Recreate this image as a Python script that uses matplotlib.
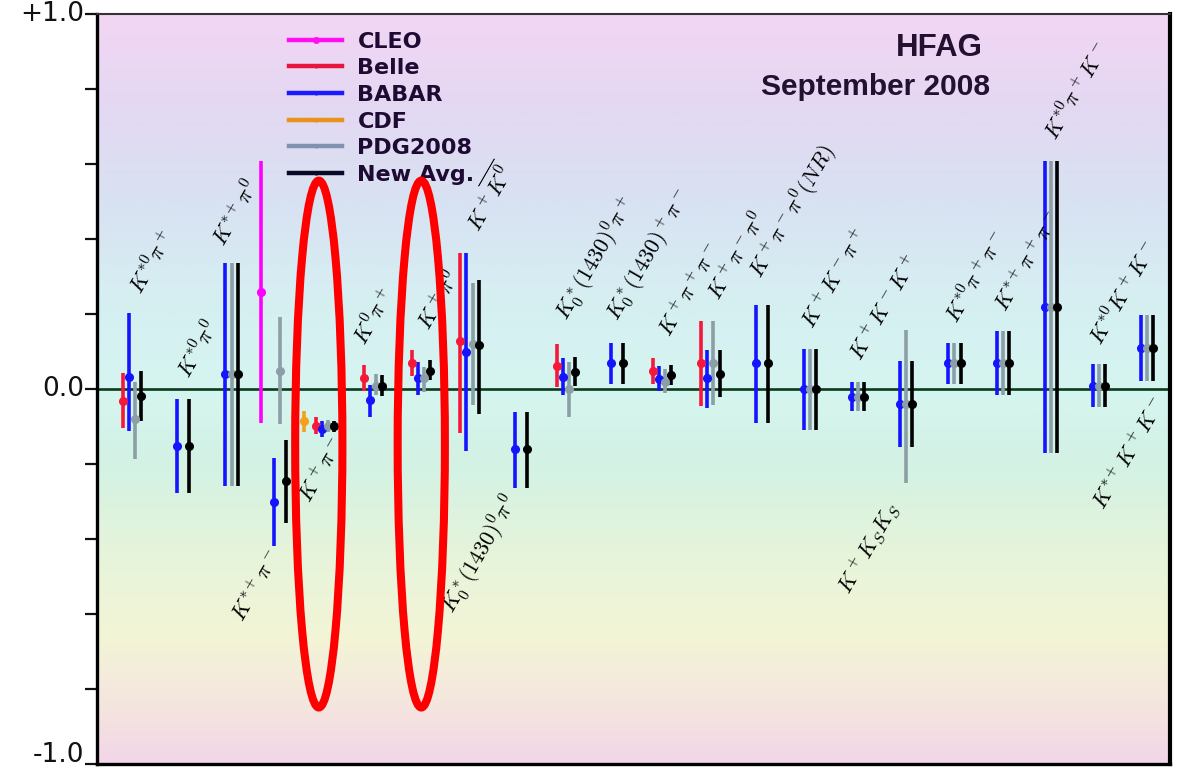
import numpy as np
import matplotlib
matplotlib.use("Agg")
import matplotlib.pyplot as plt
from matplotlib.lines import Line2D
from matplotlib.patches import Ellipse
from matplotlib.colors import LinearSegmentedColormap
from matplotlib.ticker import FixedLocator, NullFormatter
from matplotlib.transforms import ScaledTranslation

plt.rcParams['mathtext.fontset'] = 'cm'
plt.rcParams['font.family'] = ['DejaVu Sans']

nan = np.nan

modes = [r'$K^{*0}\pi^+$', r'$K^{*0}\pi^0$', r'$K^{*+}\pi^0$', r'$K^{*+}\pi^-$',
         r'$K^+\pi^-$', r'$K^0\pi^+$', r'$K^+\pi^0$', r'$K^+\overline{K^0}$',
         r'$K_0^*(1430)^0\pi^0$', r'$K_0^*(1430)^0\pi^+$', r'$K_0^*(1430)^+\pi^-$',
         r'$K^+\pi^+\pi^-$', r'$K^+\pi^-\pi^0$', r'$K^+\pi^-\pi^0(NR)$',
         r'$K^+K^-\pi^+$', r'$K^+K^-K^+$', r'$K^+K_SK_S$', r'$K^{*0}\pi^+\pi^-$',
         r'$K^{*+}\pi^+\pi^-$', r'$K^{*0}\pi^+K^-$', r'$K^{*0}K^+K^-$', r'$K^{*+}K^+K^-$']

# CDF
cdf_val = [nan]*4 + [-0.085] + [nan]*17
cdf_hi  = [nan]*4 + [-0.059] + [nan]*17
cdf_lo  = [nan]*4 + [-0.113] + [nan]*17
# CLEO
cleo_val = [nan]*3 + [0.26] + [nan]*18
cleo_hi  = [nan]*3 + [0.61] + [nan]*18
cleo_lo  = [nan]*3 + [-0.09] + [nan]*18
# Belle
belle_val = [-0.03, nan, nan, nan, -0.098, 0.031, 0.071, 0.13, nan, 0.062, nan, 0.05, 0.07,
             nan, nan, nan, nan, nan, nan, nan, nan, nan]
belle_hi  = [0.044, nan, nan, nan, -0.074, 0.064, 0.104, 0.363, nan, 0.122, nan, 0.084, 0.182,
             nan, nan, nan, nan, nan, nan, nan, nan, nan]
belle_lo  = [-0.104, nan, nan, nan, -0.118, -0.004, 0.035, -0.116, nan, 0.006, nan, 0.013, -0.045,
             nan, nan, nan, nan, nan, nan, nan, nan, nan]
# BABAR
babar_val = [0.033, -0.15, 0.042, -0.30, -0.106, -0.029, 0.03, 0.099, -0.16, 0.033, 0.07, 0.028,
             0.031, 0.07, 0.0, -0.02, -0.039, 0.07, 0.07, 0.219, 0.01, 0.11]
babar_hi  = [0.204, -0.025, 0.336, -0.184, -0.085, 0.012, 0.073, 0.363, -0.06, 0.084, 0.124, 0.061,
             0.104, 0.226, 0.108, 0.02, 0.075, 0.124, 0.155, 0.609, 0.067, 0.197]
babar_lo  = [-0.112, -0.276, -0.258, -0.418, -0.127, -0.074, -0.014, -0.165, -0.262, -0.016, 0.015,
             -0.004, -0.049, -0.09, -0.109, -0.057, -0.155, 0.015, -0.015, -0.169, -0.046, 0.022]
# PDG2008
pdg_val = [-0.08, nan, 0.042, 0.05, -0.097, 0.01, 0.03, 0.12, nan, 0.0, nan, 0.02, 0.07, nan,
           0.0, -0.02, -0.04, 0.07, 0.07, 0.219, 0.01, 0.11]
pdg_hi  = [0.019, nan, 0.336, 0.192, -0.081, 0.042, 0.059, 0.283, nan, 0.073, nan, 0.055, 0.182, nan,
           0.108, 0.02, 0.157, 0.124, 0.155, 0.609, 0.067, 0.197]
pdg_lo  = [-0.185, nan, -0.258, -0.093, -0.113, -0.016, -0.007, -0.043, nan, -0.074, nan, -0.011,
           -0.043, nan, -0.109, -0.057, -0.251, 0.015, -0.015, -0.169, -0.046, 0.022]
# New average
avg_val = [-0.019, -0.15, 0.042, -0.245, -0.098, 0.009, 0.05, 0.117, -0.16, 0.046, 0.07, 0.037,
           0.042, 0.07, 0.0, -0.02, -0.039, 0.07, 0.07, 0.219, 0.01, 0.11]
avg_hi  = [0.05, -0.025, 0.336, -0.136, -0.084, 0.037, 0.077, 0.292, -0.06, 0.086, 0.124, 0.064,
           0.104, 0.226, 0.108, 0.02, 0.075, 0.124, 0.155, 0.609, 0.067, 0.197]
avg_lo  = [-0.085, -0.276, -0.258, -0.357, -0.113, -0.019, 0.024, -0.065, -0.262, 0.008, 0.015,
           0.011, -0.02, -0.09, -0.109, -0.057, -0.155, 0.015, -0.015, -0.169, -0.046, 0.022]

exp_names = ['CLEO', 'Belle', 'BABAR', 'CDF', 'PDG2008', 'New Avg.']
highlight = [4, 6]
ytick_labels = {1.0: '+1.0', 0.0: '0.0', -1.0: '-1.0'}

# ---------------- layout / style ----------------
W, H = 1177, 770
fig = plt.figure(figsize=(W / 100, H / 100), dpi=100)
ax = fig.add_axes([97 / W, (H - 764.3) / H, (1170 - 97) / W, (764.3 - 14.3) / H])
XL = (-0.919, 21.347)
ax.set_xlim(*XL)
ax.set_ylim(-1.0, 1.0)

# background gradient
stops = [(0.0, '#f2d6f4'), (0.12, '#e4d8f2'), (0.25, '#d8e2f2'), (0.38, '#d6eff2'),
         (0.5, '#d5f5f0'), (0.6, '#d3f2e4'), (0.72, '#e6f4da'), (0.83, '#f3f5d6'),
         (0.92, '#f5e6de'), (1.0, '#f2d6e8')]
cmap = LinearSegmentedColormap.from_list('bg', stops)
grad = np.linspace(0, 1, 512).reshape(-1, 1)
ax.imshow(grad, cmap=cmap, aspect='auto', extent=[XL[0], XL[1], -1.0, 1.0],
          origin='upper', zorder=0, interpolation='bilinear')

ax.axhline(0.0, color='#0b3a1e', lw=1.9, zorder=1)

colors = {'CDF': '#f5a01a', 'CLEO': '#ff00ff', 'Belle': '#f5183a', 'BABAR': '#1414ff',
          'PDG2008': '#8c9ea6', 'New Avg.': '#000000'}
slot = 0.1266
series = [('CDF', cdf_val, cdf_hi, cdf_lo, -5), ('CLEO', cleo_val, cleo_hi, cleo_lo, -4),
          ('Belle', belle_val, belle_hi, belle_lo, -3), ('BABAR', babar_val, babar_hi, babar_lo, -2),
          ('PDG2008', pdg_val, pdg_hi, pdg_lo, -1), ('New Avg.', avg_val, avg_hi, avg_lo, 0)]

idx = np.arange(len(modes))
present_x = [[] for _ in modes]
for name, v, hi, lo, off in series:
    v = np.array(v, float); hi = np.array(hi, float); lo = np.array(lo, float)
    m = ~np.isnan(v)
    x = idx + off * slot
    ax.errorbar(x[m], v[m], yerr=[v[m] - lo[m], hi[m] - v[m]], fmt='o', color=colors[name],
                ms=5.5, elinewidth=2.6, capsize=0, zorder=3)
    for i in idx[m]:
        present_x[i].append(x[i])

# mode labels (anchor offsets relative to each group)
above = dict(zip([0, 1, 2, 5, 6, 7, 9, 10, 11, 12, 13, 14, 15, 17, 18, 19, 20],
                 [(-0.19, 0.249), (-0.19, 0.025), (-0.46, 0.377), (-0.53, 0.114), (-0.22, 0.154),
                  (-0.18, 0.417), (-0.35, 0.18), (-0.30, 0.18), (-0.23, 0.137), (-0.19, 0.234),
                  (-0.33, 0.291), (-0.26, 0.158), (-0.26, 0.074), (-0.26, 0.171), (-0.26, 0.203),
                  (-0.21, 0.66), (-0.26, 0.114)]))
below = dict(zip([3, 4, 8, 16, 21],
                 [(-0.40, -0.42), (-0.10, -0.12), (-0.55, -0.27), (-0.62, -0.29), (-0.05, -0.01)]))
for i, lab in enumerate(modes):
    if i in above:
        dx, y = above[i]
        ax.text(i + dx + 0.2, y, lab, rotation=60, rotation_mode='anchor', ha='left',
                va='baseline', fontsize=16, zorder=4)
    else:
        dx, y = below[i]
        ax.text(i + dx, y, lab, rotation=60, rotation_mode='anchor', ha='right', va='top',
                fontsize=16, zorder=4)

# highlight ellipses
for i in highlight:
    xc = 0.5 * (min(present_x[i]) + max(present_x[i]))
    ax.add_patch(Ellipse((xc, -0.146), 0.98, 1.405, fill=False, ec='#ff0000', lw=5.8, zorder=6))

# legend
leg_colors = {'CLEO': '#ff10f0', 'Belle': '#e8163c', 'BABAR': '#1a1aff', 'CDF': '#e8921c',
              'PDG2008': '#7f92b0', 'New Avg.': '#0a0a28'}
handles = [Line2D([0], [0], color=leg_colors[n], lw=3.2, marker='o',
                  ms=(5 if n == 'CLEO' else 3), markeredgewidth=0) for n in exp_names]
leg = ax.legend(handles, exp_names, loc='upper left', bbox_to_anchor=(289 / W, 1 - 31.5 / H),
                bbox_transform=fig.transFigure, frameon=False, borderpad=0, borderaxespad=0,
                handlelength=2.4, handletextpad=0.68, labelspacing=0.30,
                prop={'family': 'DejaVu Sans', 'weight': 'bold', 'size': 16})
for t in leg.get_texts():
    t.set_color('#1e0a32')

fig.text(939 / W, 1 - 48.5 / H, 'HFAG', ha='center', va='center', fontsize=22.5,
         fontweight='bold', family='Liberation Sans', color='#241030')
fig.text(875.5 / W, 1 - 87 / H, 'September 2008', ha='center', va='center', fontsize=21.5,
         fontweight='bold', family='Liberation Sans', color='#241030')

# axes styling
ax.set_xticks([])
ticks = np.round(np.arange(-1.0, 1.01, 0.2), 1)
ax.yaxis.set_major_locator(FixedLocator(ticks))
ax.yaxis.set_major_formatter(NullFormatter())
ax.tick_params(axis='y', direction='out', length=8.6, width=1.6, colors='#111111')
ytrans = ax.get_yaxis_transform()
for val, txt in ytick_labels.items():
    shift = 7 / 72 if val == -1.0 else 0
    ax.text(-12.5 / (1170 - 97), val, txt, ha='right', va='center', fontsize=19,
            color='#111111', transform=ytrans + ScaledTranslation(0, shift, fig.dpi_scale_trans),
            clip_on=False)
for s in ['left', 'bottom']:
    ax.spines[s].set_linewidth(2.4)
ax.spines['right'].set_linewidth(3.0)
ax.spines['top'].set_linewidth(1.5)
ax.spines['top'].set_color('#333333')

fig.savefig('out.png', dpi=100)
